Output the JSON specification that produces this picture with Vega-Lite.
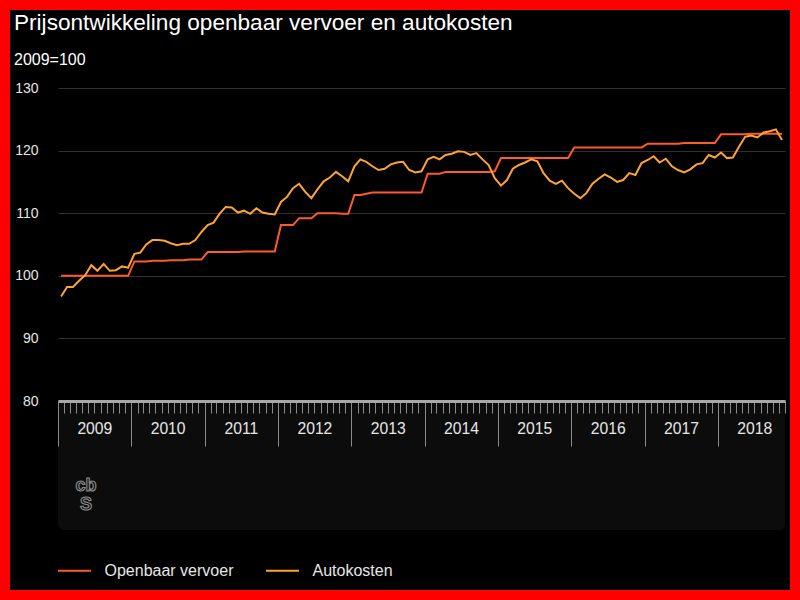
{
  "$schema": "https://vega.github.io/schema/vega-lite/v6.json",
  "width": 780,
  "height": 580,
  "autosize": "none",
  "padding": 10,
  "background": "#ff0000",
  "config": {
    "view": {"fill": "#000000", "stroke": null},
    "font": "Liberation Sans"
  },
  "title": {
    "text": "Prijsontwikkeling openbaar vervoer en autokosten",
    "subtitle": "2009=100",
    "anchor": "start",
    "frame": "group",
    "offset": -58,
    "dx": 4,
    "fontSize": 22.6,
    "fontWeight": "normal",
    "color": "#ffffff",
    "font": "Liberation Sans",
    "subtitleFont": "Liberation Sans",
    "subtitleFontSize": 16,
    "subtitleColor": "#ffffff",
    "subtitlePadding": 17
  },
  "layer": [
    {
      "data": {"values": [{}]},
      "mark": {"type": "rect", "fill": "#0c0c0c", "cornerRadius": 6},
      "encoding": {
        "x": {"datum": {"year": 2009, "month": 1, "date": 1, "utc": true}, "type": "temporal", "scale": {"type": "utc"}, "axis": {"title": null}},
        "x2": {"datum": {"year": 2018, "month": 12, "date": 1, "utc": true}},
        "y": {"datum": 80, "type": "quantitative", "axis": {"title": null}},
        "y2": {"datum": 59.4}
      }
    },
    {
      "data": {"values": [{"logo": ["cb", "S"]}]},
      "mark": {"type": "text", "font": "Liberation Sans", "fontWeight": "bold", "fontSize": 18, "lineHeight": 19, "baseline": "middle", "align": "center", "fill": null, "stroke": "#8c8c8c", "strokeWidth": 1.1},
      "encoding": {
        "x": {"datum": {"year": 2009, "month": 5, "date": 21, "utc": true}, "type": "temporal", "scale": {"type": "utc"}, "axis": {"title": null}},
        "y": {"datum": 66.4, "type": "quantitative", "axis": {"title": null}},
        "text": {"field": "logo"}
      }
    },
    {
      "data": {
        "values": [
          {"maand": "2009-01-01", "Openbaar vervoer": 100.0, "Autokosten": 96.7},
          {"maand": "2009-02-01", "Openbaar vervoer": 100.0, "Autokosten": 98.2},
          {"maand": "2009-03-01", "Openbaar vervoer": 100.0, "Autokosten": 98.2},
          {"maand": "2009-04-01", "Openbaar vervoer": 100.0, "Autokosten": 99.2},
          {"maand": "2009-05-01", "Openbaar vervoer": 100.0, "Autokosten": 100.1},
          {"maand": "2009-06-01", "Openbaar vervoer": 100.0, "Autokosten": 101.7},
          {"maand": "2009-07-01", "Openbaar vervoer": 100.0, "Autokosten": 100.8},
          {"maand": "2009-08-01", "Openbaar vervoer": 100.0, "Autokosten": 101.9},
          {"maand": "2009-09-01", "Openbaar vervoer": 100.0, "Autokosten": 100.8},
          {"maand": "2009-10-01", "Openbaar vervoer": 100.0, "Autokosten": 100.9},
          {"maand": "2009-11-01", "Openbaar vervoer": 100.0, "Autokosten": 101.5},
          {"maand": "2009-12-01", "Openbaar vervoer": 100.0, "Autokosten": 101.3},
          {"maand": "2010-01-01", "Openbaar vervoer": 102.3, "Autokosten": 103.5},
          {"maand": "2010-02-01", "Openbaar vervoer": 102.3, "Autokosten": 103.7},
          {"maand": "2010-03-01", "Openbaar vervoer": 102.3, "Autokosten": 105.0},
          {"maand": "2010-04-01", "Openbaar vervoer": 102.4, "Autokosten": 105.7},
          {"maand": "2010-05-01", "Openbaar vervoer": 102.4, "Autokosten": 105.7},
          {"maand": "2010-06-01", "Openbaar vervoer": 102.4, "Autokosten": 105.6},
          {"maand": "2010-07-01", "Openbaar vervoer": 102.5, "Autokosten": 105.2},
          {"maand": "2010-08-01", "Openbaar vervoer": 102.5, "Autokosten": 104.9},
          {"maand": "2010-09-01", "Openbaar vervoer": 102.5, "Autokosten": 105.1},
          {"maand": "2010-10-01", "Openbaar vervoer": 102.6, "Autokosten": 105.1},
          {"maand": "2010-11-01", "Openbaar vervoer": 102.6, "Autokosten": 105.7},
          {"maand": "2010-12-01", "Openbaar vervoer": 102.6, "Autokosten": 107.0},
          {"maand": "2011-01-01", "Openbaar vervoer": 103.8, "Autokosten": 108.1},
          {"maand": "2011-02-01", "Openbaar vervoer": 103.8, "Autokosten": 108.5},
          {"maand": "2011-03-01", "Openbaar vervoer": 103.8, "Autokosten": 109.9},
          {"maand": "2011-04-01", "Openbaar vervoer": 103.8, "Autokosten": 111.0},
          {"maand": "2011-05-01", "Openbaar vervoer": 103.8, "Autokosten": 110.9},
          {"maand": "2011-06-01", "Openbaar vervoer": 103.8, "Autokosten": 110.1},
          {"maand": "2011-07-01", "Openbaar vervoer": 103.9, "Autokosten": 110.4},
          {"maand": "2011-08-01", "Openbaar vervoer": 103.9, "Autokosten": 109.9},
          {"maand": "2011-09-01", "Openbaar vervoer": 103.9, "Autokosten": 110.8},
          {"maand": "2011-10-01", "Openbaar vervoer": 103.9, "Autokosten": 110.1},
          {"maand": "2011-11-01", "Openbaar vervoer": 103.9, "Autokosten": 109.9},
          {"maand": "2011-12-01", "Openbaar vervoer": 103.9, "Autokosten": 109.8},
          {"maand": "2012-01-01", "Openbaar vervoer": 108.1, "Autokosten": 111.8},
          {"maand": "2012-02-01", "Openbaar vervoer": 108.1, "Autokosten": 112.6},
          {"maand": "2012-03-01", "Openbaar vervoer": 108.1, "Autokosten": 114.0},
          {"maand": "2012-04-01", "Openbaar vervoer": 109.2, "Autokosten": 114.7},
          {"maand": "2012-05-01", "Openbaar vervoer": 109.2, "Autokosten": 113.4},
          {"maand": "2012-06-01", "Openbaar vervoer": 109.2, "Autokosten": 112.4},
          {"maand": "2012-07-01", "Openbaar vervoer": 110.0, "Autokosten": 113.8},
          {"maand": "2012-08-01", "Openbaar vervoer": 110.0, "Autokosten": 115.1},
          {"maand": "2012-09-01", "Openbaar vervoer": 110.0, "Autokosten": 115.7},
          {"maand": "2012-10-01", "Openbaar vervoer": 110.0, "Autokosten": 116.6},
          {"maand": "2012-11-01", "Openbaar vervoer": 109.9, "Autokosten": 115.9},
          {"maand": "2012-12-01", "Openbaar vervoer": 109.9, "Autokosten": 115.1},
          {"maand": "2013-01-01", "Openbaar vervoer": 112.9, "Autokosten": 117.5},
          {"maand": "2013-02-01", "Openbaar vervoer": 112.9, "Autokosten": 118.6},
          {"maand": "2013-03-01", "Openbaar vervoer": 113.1, "Autokosten": 118.2},
          {"maand": "2013-04-01", "Openbaar vervoer": 113.3, "Autokosten": 117.5},
          {"maand": "2013-05-01", "Openbaar vervoer": 113.3, "Autokosten": 116.9},
          {"maand": "2013-06-01", "Openbaar vervoer": 113.3, "Autokosten": 117.1},
          {"maand": "2013-07-01", "Openbaar vervoer": 113.3, "Autokosten": 117.8},
          {"maand": "2013-08-01", "Openbaar vervoer": 113.3, "Autokosten": 118.1},
          {"maand": "2013-09-01", "Openbaar vervoer": 113.3, "Autokosten": 118.2},
          {"maand": "2013-10-01", "Openbaar vervoer": 113.3, "Autokosten": 116.9},
          {"maand": "2013-11-01", "Openbaar vervoer": 113.3, "Autokosten": 116.5},
          {"maand": "2013-12-01", "Openbaar vervoer": 113.3, "Autokosten": 116.7},
          {"maand": "2014-01-01", "Openbaar vervoer": 116.3, "Autokosten": 118.6},
          {"maand": "2014-02-01", "Openbaar vervoer": 116.3, "Autokosten": 119.0},
          {"maand": "2014-03-01", "Openbaar vervoer": 116.3, "Autokosten": 118.6},
          {"maand": "2014-04-01", "Openbaar vervoer": 116.6, "Autokosten": 119.3},
          {"maand": "2014-05-01", "Openbaar vervoer": 116.6, "Autokosten": 119.5},
          {"maand": "2014-06-01", "Openbaar vervoer": 116.6, "Autokosten": 119.9},
          {"maand": "2014-07-01", "Openbaar vervoer": 116.6, "Autokosten": 119.8},
          {"maand": "2014-08-01", "Openbaar vervoer": 116.6, "Autokosten": 119.3},
          {"maand": "2014-09-01", "Openbaar vervoer": 116.6, "Autokosten": 119.6},
          {"maand": "2014-10-01", "Openbaar vervoer": 116.6, "Autokosten": 118.6},
          {"maand": "2014-11-01", "Openbaar vervoer": 116.6, "Autokosten": 117.7},
          {"maand": "2014-12-01", "Openbaar vervoer": 116.7, "Autokosten": 115.6},
          {"maand": "2015-01-01", "Openbaar vervoer": 118.8, "Autokosten": 114.4},
          {"maand": "2015-02-01", "Openbaar vervoer": 118.8, "Autokosten": 115.3},
          {"maand": "2015-03-01", "Openbaar vervoer": 118.8, "Autokosten": 117.1},
          {"maand": "2015-04-01", "Openbaar vervoer": 118.8, "Autokosten": 117.7},
          {"maand": "2015-05-01", "Openbaar vervoer": 118.8, "Autokosten": 118.1},
          {"maand": "2015-06-01", "Openbaar vervoer": 118.8, "Autokosten": 118.6},
          {"maand": "2015-07-01", "Openbaar vervoer": 118.8, "Autokosten": 118.3},
          {"maand": "2015-08-01", "Openbaar vervoer": 118.8, "Autokosten": 116.4},
          {"maand": "2015-09-01", "Openbaar vervoer": 118.8, "Autokosten": 115.2},
          {"maand": "2015-10-01", "Openbaar vervoer": 118.8, "Autokosten": 114.7},
          {"maand": "2015-11-01", "Openbaar vervoer": 118.8, "Autokosten": 115.2},
          {"maand": "2015-12-01", "Openbaar vervoer": 118.8, "Autokosten": 114.0},
          {"maand": "2016-01-01", "Openbaar vervoer": 120.5, "Autokosten": 113.1},
          {"maand": "2016-02-01", "Openbaar vervoer": 120.5, "Autokosten": 112.4},
          {"maand": "2016-03-01", "Openbaar vervoer": 120.5, "Autokosten": 113.2},
          {"maand": "2016-04-01", "Openbaar vervoer": 120.5, "Autokosten": 114.7},
          {"maand": "2016-05-01", "Openbaar vervoer": 120.5, "Autokosten": 115.5},
          {"maand": "2016-06-01", "Openbaar vervoer": 120.5, "Autokosten": 116.2},
          {"maand": "2016-07-01", "Openbaar vervoer": 120.5, "Autokosten": 115.7},
          {"maand": "2016-08-01", "Openbaar vervoer": 120.5, "Autokosten": 115.0},
          {"maand": "2016-09-01", "Openbaar vervoer": 120.5, "Autokosten": 115.3},
          {"maand": "2016-10-01", "Openbaar vervoer": 120.5, "Autokosten": 116.4},
          {"maand": "2016-11-01", "Openbaar vervoer": 120.5, "Autokosten": 116.1},
          {"maand": "2016-12-01", "Openbaar vervoer": 120.5, "Autokosten": 118.0},
          {"maand": "2017-01-01", "Openbaar vervoer": 121.1, "Autokosten": 118.5},
          {"maand": "2017-02-01", "Openbaar vervoer": 121.1, "Autokosten": 119.1},
          {"maand": "2017-03-01", "Openbaar vervoer": 121.1, "Autokosten": 118.1},
          {"maand": "2017-04-01", "Openbaar vervoer": 121.1, "Autokosten": 118.7},
          {"maand": "2017-05-01", "Openbaar vervoer": 121.1, "Autokosten": 117.5},
          {"maand": "2017-06-01", "Openbaar vervoer": 121.1, "Autokosten": 116.9},
          {"maand": "2017-07-01", "Openbaar vervoer": 121.2, "Autokosten": 116.5},
          {"maand": "2017-08-01", "Openbaar vervoer": 121.2, "Autokosten": 117.0},
          {"maand": "2017-09-01", "Openbaar vervoer": 121.2, "Autokosten": 117.8},
          {"maand": "2017-10-01", "Openbaar vervoer": 121.2, "Autokosten": 118.0},
          {"maand": "2017-11-01", "Openbaar vervoer": 121.2, "Autokosten": 119.3},
          {"maand": "2017-12-01", "Openbaar vervoer": 121.2, "Autokosten": 118.9},
          {"maand": "2018-01-01", "Openbaar vervoer": 122.6, "Autokosten": 119.7},
          {"maand": "2018-02-01", "Openbaar vervoer": 122.6, "Autokosten": 118.8},
          {"maand": "2018-03-01", "Openbaar vervoer": 122.6, "Autokosten": 118.9},
          {"maand": "2018-04-01", "Openbaar vervoer": 122.6, "Autokosten": 120.6},
          {"maand": "2018-05-01", "Openbaar vervoer": 122.6, "Autokosten": 122.2},
          {"maand": "2018-06-01", "Openbaar vervoer": 122.7, "Autokosten": 122.4},
          {"maand": "2018-07-01", "Openbaar vervoer": 122.7, "Autokosten": 122.1},
          {"maand": "2018-08-01", "Openbaar vervoer": 122.7, "Autokosten": 122.9},
          {"maand": "2018-09-01", "Openbaar vervoer": 122.7, "Autokosten": 123.1},
          {"maand": "2018-10-01", "Openbaar vervoer": 122.7, "Autokosten": 123.4},
          {"maand": "2018-11-01", "Openbaar vervoer": 122.7, "Autokosten": 121.7}
        ]
      },
      "transform": [{"fold": ["Openbaar vervoer", "Autokosten"], "as": ["reeks", "index"]}],
      "mark": {"type": "line", "strokeWidth": 2},
      "encoding": {
        "x": {
          "field": "maand",
          "timeUnit": "utcyearmonth",
          "type": "temporal",
          "bandPosition": 0.5,
          "scale": {
            "type": "utc",
            "domain": [
              {"year": 2009, "month": 1, "date": 1, "utc": true},
              {"year": 2018, "month": 12, "date": 1, "utc": true}
            ],
            "range": [48, 775]
          },
          "axis": {
            "title": null,
            "orient": "bottom",
            "offset": -189,
            "zindex": 1,
            "grid": false,
            "tickCount": {"interval": "month", "step": 1},
            "domainColor": "#a8a8a8",
            "domainWidth": 3,
            "tickColor": "#8a8a8a",
            "tickWidth": 1,
            "tickSize": {"condition": {"test": "utcmonth(datum.value) === 0", "value": 45}, "value": 12},
            "labelExpr": "utcmonth(datum.value) === 6 ? utcFormat(datum.value, '%Y') : ''",
            "labelOverlap": false,
            "labelFlush": false,
            "labelBound": false,
            "labelPadding": 8,
            "labelFontSize": 15.7,
            "labelColor": "#e6e6e6",
            "labelFont": "Liberation Sans"
          }
        },
        "y": {
          "field": "index",
          "type": "quantitative",
          "scale": {"domain": [80, 130], "zero": false, "range": [391, 78]},
          "axis": {
            "title": null,
            "orient": "left",
            "offset": -48,
            "values": [80, 90, 100, 110, 120, 130],
            "grid": true,
            "gridColor": "#303030",
            "gridWidth": 1,
            "domain": false,
            "ticks": false,
            "tickSize": 0,
            "labelPadding": 20,
            "labelFontSize": 14,
            "labelColor": "#e6e6e6",
            "labelFont": "Liberation Sans"
          }
        },
        "color": {
          "field": "reeks",
          "type": "nominal",
          "scale": {"domain": ["Openbaar vervoer", "Autokosten"], "range": ["#ff5a2a", "#ffa332"]},
          "legend": {
            "title": null,
            "orient": "none",
            "legendX": 47,
            "legendY": 543,
            "direction": "horizontal",
            "symbolType": "stroke",
            "symbolSize": 1089,
            "symbolStrokeWidth": 2,
            "labelFontSize": 16,
            "labelColor": "#e6e6e6",
            "labelFont": "Liberation Sans",
            "labelOffset": 12.5,
            "columnPadding": 28
          }
        }
      }
    }
  ]
}
